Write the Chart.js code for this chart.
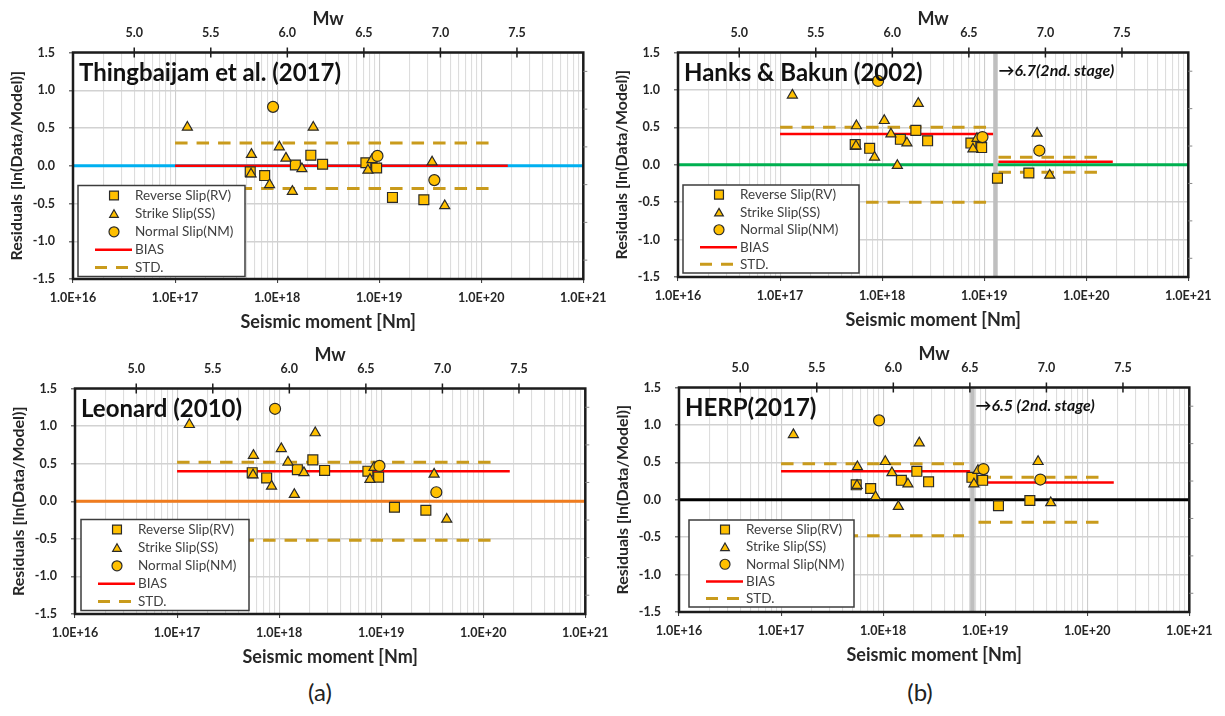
<!DOCTYPE html>
<html>
<head>
<meta charset="utf-8">
<title>Residuals of rupture-area scaling models</title>
<script src="https://cdn.jsdelivr.net/npm/chart.js@4.4.1/dist/chart.umd.min.js"></script>
<style>
  body { margin: 0; width: 1225px; height: 716px; background: #fff; position: relative; overflow: hidden; font-family: Lato, sans-serif; }
  .panel { position: absolute; }
  .cap { position: absolute; width: 60px; text-align: center; font: 24px Lato, sans-serif; color: #222; }
</style>
</head>
<body>
<div class="panel" style="left:0px;top:0px;width:614px;height:340px"><canvas id="c1"></canvas></div>
<div class="panel" style="left:605px;top:0px;width:614px;height:338px"><canvas id="c2"></canvas></div>
<div class="panel" style="left:2px;top:336px;width:614px;height:339px"><canvas id="c3"></canvas></div>
<div class="panel" style="left:606px;top:335px;width:614px;height:338px"><canvas id="c4"></canvas></div>
<div class="cap" style="left:290px;top:677px">(a)</div>
<div class="cap" style="left:890px;top:677px">(b)</div>
<script>
// seismic moment of each event [Nm], grouped by fault type
const rvMoment = [5.45e17, 7.55e17, 1.51e18, 2.14e18, 2.79e18, 7.41e18, 9.44e18, 1.35e19, 2.74e19];
const ssMoment = [1.32e17, 5.6e17, 5.55e17, 8.43e17, 1.05e18, 1.22e18, 1.41e18, 1.75e18, 2.26e18, 7.76e18, 8.5e18, 3.30e19, 4.39e19];
const nmMoment = [9.12e17, 9.62e18, 3.47e19];

// residuals ln(Data/Model) for each scaling model
const thingRV = [-0.08, -0.13, 0.01, 0.14, 0.02, 0.04, -0.03, -0.42, -0.45];
const thingSS = [0.51, 0.15, -0.11, -0.25, 0.25, 0.10, -0.34, -0.04, 0.51, -0.06, 0.08, 0.05, -0.53];
const thingNM = [0.78, 0.13, -0.19];

const hanksRV = [0.27, 0.22, 0.34, 0.46, 0.32, 0.29, 0.23, -0.18, -0.11];
const hanksSS = [0.93, 0.52, 0.25, 0.10, 0.59, 0.41, -0.01, 0.29, 0.82, 0.21, 0.35, 0.42, -0.14];
const hanksNM = [1.12, 0.37, 0.19];

const leonardRV = [0.38, 0.31, 0.42, 0.55, 0.41, 0.40, 0.32, -0.08, -0.12];
const leonardSS = [1.02, 0.61, 0.35, 0.20, 0.70, 0.52, 0.09, 0.38, 0.91, 0.29, 0.45, 0.36, -0.24];
const leonardNM = [1.23, 0.47, 0.12];

const herpRV = [0.20, 0.15, 0.26, 0.38, 0.24, 0.30, 0.26, -0.08, -0.01];
const herpSS = [0.87, 0.44, 0.19, 0.04, 0.51, 0.36, -0.09, 0.21, 0.76, 0.21, 0.39, 0.51, -0.04];
const herpNM = [1.06, 0.41, 0.27];

// bias and standard deviation, one entry per stage, with the moment range they cover
const thingBias = [0.00], thingStd = [0.30];
const thingBiasRange = [[1e17, 1.82e20]], thingStdRange = [[1e17, 1.4e20]];
const hanksBias = [0.41, 0.04], hanksStd = [0.50, 0.10];
const hanksBiasRange = [[1e17, 1.23e19], [1.38e19, 1.82e20]], hanksStdRange = [[1e17, 1.23e19], [1.38e19, 1.4e20]];
const leonardBias = [0.40], leonardStd = [0.52];
const leonardBiasRange = [[1e17, 1.82e20]], leonardStdRange = [[1e17, 1.4e20]];
const herpBias = [0.38, 0.23], herpStd = [0.48, 0.30];
const herpBiasRange = [[1e17, 7.2e18], [8.6e18, 1.82e20]], herpStdRange = [[1e17, 6.2e18], [8.6e18, 1.4e20]];

// moment where the 2nd stage starts (Mw 6.7 and Mw 6.5)
const hanksBreak = 1.29e19;
const herpBreak = 7.5e18;

// axes
const momentRange = [1e16, 1e21];
const residualRange = [-1.5, 1.5];
const mwTicks = [5.0, 5.5, 6.0, 6.5, 7.0, 7.5];
const rightTicks = [1.25, 0.75, 0.25, -0.25, -0.75, -1.25];
const legendLabels = ['Reverse Slip(RV)', 'Strike Slip(SS)', 'Normal Slip(NM)', 'BIAS', 'STD.'];

const GOLD = '#ffc000', EDGE = '#2a2a2a', RED = '#ff0000', STDC = '#c99b1c';
const TXT = '#262626';

const mwToMoment = mw => Math.pow(10, 1.5 * mw + 9.1);
const momentToMw = m0 => (Math.log10(m0) - 9.1) / 1.5;
const isDecade = v => { const e = Math.log10(v); return Math.abs(e - Math.round(e)) < 1e-6; };

function drawMarker(ctx, style, x, y, r) {
  ctx.beginPath();
  if (style === 'rect') {
    const s = r * Math.SQRT1_2;
    ctx.rect(x - s, y - s, 2 * s, 2 * s);
  } else if (style === 'triangle') {
    for (let k = 0; k < 3; k++) {
      const a = k * 2 * Math.PI / 3;
      ctx.lineTo(x + Math.sin(a) * r, y - Math.cos(a) * r);
    }
    ctx.closePath();
  } else {
    ctx.arc(x, y, r, 0, 2 * Math.PI);
  }
  ctx.fillStyle = GOLD;
  ctx.fill();
  ctx.lineWidth = 1.2;
  ctx.strokeStyle = EDGE;
  ctx.stroke();
}

// frame, titles, legend box and the Mw tick crosses
const panelDecor = {
  id: 'panelDecor',
  afterDraw(chart, args, opts) {
    const { ctx, chartArea: a } = chart;
    const xs = chart.scales.x, ys = chart.scales.y, x2 = chart.scales.x2;
    ctx.save();

    // legend
    const [lx, lb, lw, lh] = opts.legend;
    const bx = a.left + lx, by = a.bottom - lb - lh;
    ctx.fillStyle = '#fff';
    ctx.fillRect(bx, by, lw, lh);
    ctx.lineWidth = 1.5;
    ctx.strokeStyle = '#3c3c3c';
    ctx.strokeRect(bx, by, lw, lh);
    const rowY = [10, 28.3, 46.3, 64.3, 82].map(v => by + v * lh / 91);
    drawMarker(ctx, 'rect', bx + 36, rowY[0], 6.3);
    drawMarker(ctx, 'triangle', bx + 36, rowY[1] + 1, 5);
    drawMarker(ctx, 'circle', bx + 36, rowY[2], 5);
    ctx.lineWidth = 2.5;
    ctx.strokeStyle = RED;
    ctx.beginPath(); ctx.moveTo(bx + 17, rowY[3]); ctx.lineTo(bx + 54, rowY[3]); ctx.stroke();
    ctx.lineWidth = 3;
    ctx.strokeStyle = STDC;
    ctx.setLineDash([12, 9]);
    ctx.beginPath(); ctx.moveTo(bx + 17, rowY[4]); ctx.lineTo(bx + 54, rowY[4]); ctx.stroke();
    ctx.setLineDash([]);
    ctx.font = '13.5px Lato, sans-serif';
    ctx.fillStyle = '#404040';
    ctx.textBaseline = 'middle';
    legendLabels.forEach((t, i) => ctx.fillText(t, bx + 57, rowY[i]));

    // panel title
    ctx.textBaseline = 'alphabetic';
    ctx.font = 'bold 24px Lato, sans-serif';
    ctx.fillStyle = '#111';
    ctx.fillText(opts.title, a.left + 6, a.top + 28);

    // 2nd stage note
    if (opts.stageBreak) {
      const px = xs.getPixelForValue(opts.stageBreak);
      ctx.font = 'italic bold 16px Lato, sans-serif';
      ctx.fillText(opts.note, px + 3, a.top + 23);
    }

    // plot frame
    ctx.lineWidth = 2.5;
    ctx.strokeStyle = '#1c1c1c';
    ctx.strokeRect(a.left, a.top, a.right - a.left, a.bottom - a.top);

    // crosses on the Mw axis and small ticks on the right edge
    ctx.lineWidth = 1.5;
    x2.ticks.forEach(t => {
      const px = x2.getPixelForValue(t.value);
      ctx.beginPath(); ctx.moveTo(px, a.top - 5); ctx.lineTo(px, a.top + 5); ctx.stroke();
    });
    ctx.lineWidth = 1;
    ctx.strokeStyle = '#888';
    rightTicks.forEach(v => {
      const py = ys.getPixelForValue(v);
      ctx.beginPath(); ctx.moveTo(a.right, py); ctx.lineTo(a.right + 4, py); ctx.stroke();
    });
    ctx.restore();
  }
};

function segments(values, ranges, sign, color, width, dash) {
  return values.map((v, i) => ({
    data: [{ x: ranges[i][0], y: sign * v }, { x: ranges[i][1], y: sign * v }],
    showLine: true, pointRadius: 0, borderColor: color, borderWidth: width,
    borderDash: dash, order: dash.length ? 5 : 4
  }));
}

function makePanel(p) {
  const datasets = [
    { data: nmMoment.map((x, i) => ({ x, y: p.nm[i] })), pointStyle: 'circle', pointRadius: 5.5, order: 0 },
    { data: ssMoment.map((x, i) => ({ x, y: p.ss[i] })), pointStyle: 'triangle', pointRadius: 5.8, order: 1 },
    { data: rvMoment.map((x, i) => ({ x, y: p.rv[i] })), pointStyle: 'rect', pointRadius: 7, order: 2 }
  ].map(d => Object.assign(d, { backgroundColor: GOLD, borderColor: EDGE, borderWidth: 1.2 }));

  datasets.push(...segments(p.bias, p.biasRange, 1, RED, 2.5, []));
  datasets.push(...segments(p.std, p.stdRange, 1, STDC, 3, [12.5, 9]));
  datasets.push(...segments(p.std, p.stdRange, -1, STDC, 3, [12.5, 9]));
  datasets.push({
    data: [{ x: momentRange[0], y: 0 }, { x: momentRange[1], y: 0 }],
    showLine: true, pointRadius: 0, borderColor: p.zeroColor, borderWidth: 2.8, order: 6
  });
  if (p.stageBreak) {
    datasets.push({
      data: [{ x: p.stageBreak, y: residualRange[0] }, { x: p.stageBreak, y: residualRange[1] }],
      showLine: true, pointRadius: 0, borderColor: '#bfbfbf', borderWidth: 4.5, order: 3
    });
  }

  const tickFont = { family: 'Lato', size: 12.5, weight: 'bold' };

  new Chart(document.getElementById(p.id), {
    type: 'scatter',
    data: { datasets },
    plugins: [panelDecor],
    options: {
      animation: false,
      responsive: true,
      maintainAspectRatio: false,
      events: [],
      layout: { padding: { left: 0, right: 30, top: 0, bottom: 0 } },
      plugins: {
        legend: { display: false },
        tooltip: { enabled: false },
        panelDecor: { title: p.title, legend: p.legend, stageBreak: p.stageBreak, note: p.note }
      },
      scales: {
        x: {
          type: 'logarithmic',
          position: 'bottom',
          min: momentRange[0],
          max: momentRange[1],
          afterBuildTicks: s => {
            const t = [];
            for (let e = 16; e < 21; e++) for (let k = 1; k <= 9; k++) t.push({ value: k * Math.pow(10, e) });
            t.push({ value: 1e21 });
            s.ticks = t;
          },
          afterFit: s => { s.height = 61; },
          border: { display: false },
          grid: {
            color: c => (c.tick && isDecade(c.tick.value)) ? '#cdcdcd' : '#dddddd',
            tickColor: c => (c.tick && isDecade(c.tick.value)) ? '#444' : 'rgba(0,0,0,0)',
            lineWidth: 1.1,
            tickLength: 4
          },
          ticks: {
            autoSkip: false, maxRotation: 0, minRotation: 0, padding: 7.5,
            color: TXT, font: tickFont,
            callback: v => isDecade(v) ? '1.0E+' + Math.round(Math.log10(v)) : ''
          },
          title: {
            display: true, text: 'Seismic moment [Nm]', color: TXT,
            font: { family: 'Lato', size: 18, weight: 'bold' },
            padding: { top: 0, bottom: 7.5 }
          }
        },
        x2: {
          type: 'logarithmic',
          axis: 'x',
          position: 'top',
          min: momentRange[0],
          max: momentRange[1],
          afterBuildTicks: s => { s.ticks = mwTicks.map(m => ({ value: mwToMoment(m) })); },
          afterFit: s => { s.height = 52.5; },
          border: { display: false },
          grid: { display: false, drawTicks: false },
          ticks: {
            autoSkip: false, maxRotation: 0, minRotation: 0, padding: 12,
            color: TXT, font: tickFont,
            callback: v => momentToMw(v).toFixed(1)
          },
          title: {
            display: true, text: 'Mw', color: TXT,
            font: { family: 'Lato', size: 18, weight: 'bold' },
            padding: { top: 8, bottom: 0 }
          }
        },
        y: {
          min: residualRange[0],
          max: residualRange[1],
          afterFit: s => { s.width = 73; },
          border: { display: false },
          grid: { color: '#d2d2d2', lineWidth: 1.5, tickColor: '#777', tickLength: 4 },
          ticks: { stepSize: 0.5, padding: 14, color: TXT, font: tickFont, callback: v => v.toFixed(1) },
          title: {
            display: true, text: 'Residuals [ln(Data/Model)]', color: TXT,
            font: { family: 'Lato', size: 16, weight: 'bold' },
            padding: { top: 7.5, bottom: 0 }
          }
        }
      }
    }
  });
}

makePanel({ id: 'c1', title: 'Thingbaijam et al. (2017)', rv: thingRV, ss: thingSS, nm: thingNM,
  bias: thingBias, std: thingStd, biasRange: thingBiasRange, stdRange: thingStdRange,
  zeroColor: '#00b0f0', legend: [5, 2.5, 167, 91] });
makePanel({ id: 'c2', title: 'Hanks & Bakun (2002)', rv: hanksRV, ss: hanksSS, nm: hanksNM,
  bias: hanksBias, std: hanksStd, biasRange: hanksBiasRange, stdRange: hanksStdRange,
  zeroColor: '#00b050', stageBreak: hanksBreak, note: '\u21926.7(2nd. stage)', legend: [5, 4, 176, 88] });
makePanel({ id: 'c3', title: 'Leonard (2010)', rv: leonardRV, ss: leonardSS, nm: leonardNM,
  bias: leonardBias, std: leonardStd, biasRange: leonardBiasRange, stdRange: leonardStdRange,
  zeroColor: '#f07c1e', legend: [6, 3.5, 168, 91] });
makePanel({ id: 'c4', title: 'HERP(2017)', rv: herpRV, ss: herpSS, nm: herpNM,
  bias: herpBias, std: herpStd, biasRange: herpBiasRange, stdRange: herpStdRange,
  zeroColor: '#000000', stageBreak: herpBreak, note: '\u21926.5 (2nd. stage)', legend: [10, 5, 165, 87] });
</script>
</body>
</html>
